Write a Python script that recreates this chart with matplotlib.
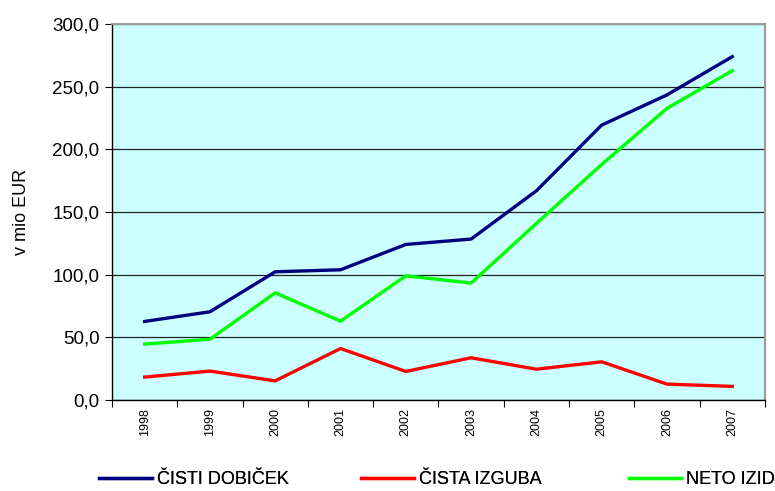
import matplotlib
matplotlib.use("Agg")
import matplotlib.pyplot as plt
from matplotlib.ticker import FuncFormatter

# data (mio EUR)
years = ["1998", "1999", "2000", "2001", "2002", "2003", "2004", "2005", "2006", "2007"]
cisti_dobicek = [62.8, 70.5, 102.4, 104.0, 124.2, 128.5, 167.0, 219.4, 243.5, 274.0]
cista_izguba = [18.4, 23.2, 15.4, 41.2, 22.9, 33.8, 24.7, 30.6, 12.8, 11.0]
neto_izid = [44.7, 48.6, 85.6, 63.0, 99.2, 93.4, 141.0, 188.0, 232.8, 262.8]

plt.rcParams['font.family'] = ['Liberation Sans', 'DejaVu Sans']

fig = plt.figure(figsize=(7.75, 4.91), dpi=100)
ax = fig.add_axes([0.1445, 0.185, 0.8425, 0.766])
ax.set_facecolor('#CCFFFF')

x = list(range(len(years)))
l1, = ax.plot(x, cisti_dobicek, color='#000080', lw=2.4, label='ČISTI DOBIČEK')
l2, = ax.plot(x, cista_izguba, color='#FF0000', lw=2.4, label='ČISTA IZGUBA')
l3, = ax.plot(x, neto_izid, color='#00FF00', lw=2.4, label='NETO IZID')

ax.set_xlim(-0.5, len(years) - 0.5)
ax.set_ylim(0, 300)
ax.set_yticks(range(0, 301, 50))
ax.yaxis.set_major_formatter(FuncFormatter(lambda v, p: f"{v:.1f}".replace('.', ',')))
ax.grid(axis='y', color='#222222', lw=0.9)
ax.set_axisbelow(True)

# category ticks sit between the points
ax.set_xticks([i - 0.5 for i in range(len(years) + 1)])
ax.set_xticklabels([])
ax.set_xticks(x, minor=True)
ax.set_xticklabels(years, minor=True, rotation=90, fontsize=9)
ax.tick_params(axis='x', which='minor', length=0, pad=6)
ax.tick_params(axis='x', which='major', length=5, direction='out', color='black')
ax.tick_params(axis='y', length=5, direction='out', labelsize=13.5, pad=4)

for side in ['top', 'right']:
    ax.spines[side].set_color('#999999')
    ax.spines[side].set_linewidth(1.5)
for side in ['left', 'bottom']:
    ax.spines[side].set_color('black')
    ax.spines[side].set_linewidth(1.0)

ax.set_ylabel('v mio EUR', fontsize=13, labelpad=16)

# one legend box per entry so each sits where the original has it
for line, xpos in [(l1, 0.128), (l2, 0.466), (l3, 0.811)]:
    leg = fig.legend(handles=[line], loc='lower left', bbox_to_anchor=(xpos, 0.006),
                     frameon=False, fontsize=13, handlelength=2.9,
                     handletextpad=0.3, borderpad=0, borderaxespad=0)
    fig.add_artist(leg)

fig.savefig('out.png', dpi=100)
